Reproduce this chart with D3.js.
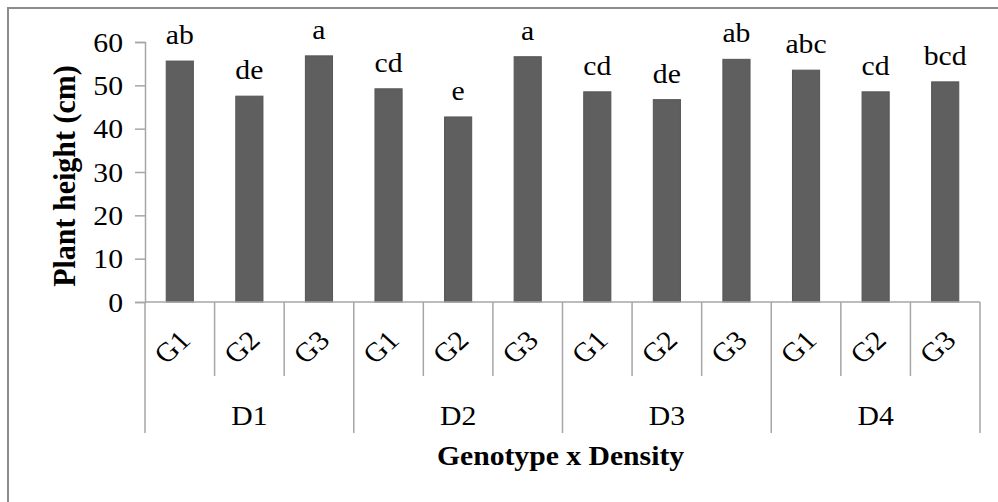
<!DOCTYPE html>
<html>
<head>
<meta charset="utf-8">
<script src="https://cdn.jsdelivr.net/npm/d3@7"></script>
<style>
  html, body { margin: 0; padding: 0; background: #fff; }
  svg { display: block; }
  text { font-family: "Liberation Serif", "Times New Roman", serif; fill: #000; }
</style>
</head>
<body>
<svg id="chart" width="998" height="502"></svg>
<script>
// ── Data ─────────────────────────────────────────────────────────
const densities = ['D1', 'D2', 'D3', 'D4'];
const genotypes = ['G1', 'G2', 'G3'];
const heights = [55.6, 47.5, 56.8, 49.2, 42.7, 56.6, 48.5, 46.7, 56.0, 53.5, 48.5, 50.8];
const letters = ['ab', 'de', 'a', 'cd', 'e', 'a', 'cd', 'de', 'ab', 'abc', 'cd', 'bcd'];
const yTicks = [0, 10, 20, 30, 40, 50, 60];

// ── Layout ───────────────────────────────────────────────────────
const W = 998, H = 502;
const plot = { left: 145, right: 980, top: 42, bottom: 302 };
const sx = 1.1;             // the source picture is a little stretched sideways
const fs = 27;
const axisColor = '#a6a6a6';
const barColor = '#5f5f5f';

const svg = d3.select('#chart');

// outer frame (only the top and left edges are in view)
svg.append('rect')
  .attr('x', 8).attr('y', 8)
  .attr('width', W + 20).attr('height', H + 20)
  .attr('fill', '#fff')
  .attr('stroke', '#8c8c8c').attr('stroke-width', 2);

const cats = densities.flatMap(d => genotypes.map(g => `${d}|${g}`));

const x = d3.scaleBand()
  .domain(cats)
  .range([plot.left, plot.right])
  .paddingInner(0.61)
  .paddingOuter(0.305);

const xCell = d3.scaleBand().domain(cats).range([plot.left, plot.right]);
const xGroup = d3.scaleBand().domain(densities).range([plot.left, plot.right]);

const y = d3.scaleLinear().domain([0, 60]).range([plot.bottom, plot.top]);

// ── Y axis ───────────────────────────────────────────────────────
const yAxis = svg.append('g')
  .attr('transform', `translate(${plot.left},0)`)
  .call(d3.axisLeft(y).tickValues(yTicks).tickSize(10).tickPadding(12));

yAxis.select('.domain').attr('stroke', axisColor).attr('stroke-width', 1.5);
yAxis.selectAll('.tick line').attr('stroke', axisColor).attr('stroke-width', 1.5);
yAxis.selectAll('.tick text')
  .attr('font-size', fs)
  .attr('font-family', '"Liberation Serif", "Times New Roman", serif')
  .attr('fill', '#000')
  .attr('dy', '0.34em')
  .each(function() {
    const t = d3.select(this);
    const tx = +t.attr('x');
    t.attr('x', null)
      .attr('transform', `translate(${tx},0) scale(${sx},1)`);
  });

// ── Bars ─────────────────────────────────────────────────────────
svg.append('g')
  .selectAll('rect')
  .data(heights)
  .join('rect')
  .attr('x', (d, i) => x(cats[i]))
  .attr('y', d => y(d))
  .attr('width', x.bandwidth())
  .attr('height', d => y(0) - y(d))
  .attr('fill', barColor)
  .attr('stroke', '#555')
  .attr('stroke-width', 1);

// significance letters
svg.append('g')
  .selectAll('text')
  .data(letters)
  .join('text')
  .attr('transform', (d, i) =>
    `translate(${x(cats[i]) + x.bandwidth() / 2},${y(heights[i]) - 17}) scale(${sx},1)`)
  .attr('text-anchor', 'middle')
  .attr('font-size', fs)
  .text(d => d);

// ── X axis (two-level categories) ────────────────────────────────
const xa = svg.append('g');

xa.append('line')
  .attr('x1', plot.left).attr('x2', plot.right)
  .attr('y1', plot.bottom).attr('y2', plot.bottom)
  .attr('stroke', axisColor).attr('stroke-width', 1.5);

// cell dividers
xa.selectAll('line.cell')
  .data(cats.slice(1).filter((c, i) => (i + 1) % genotypes.length !== 0))
  .join('line')
  .attr('class', 'cell')
  .attr('x1', d => xCell(d)).attr('x2', d => xCell(d))
  .attr('y1', plot.bottom).attr('y2', 376)
  .attr('stroke', axisColor).attr('stroke-width', 1.5);

// group dividers
const groupEdges = densities.map(d => xGroup(d)).concat([plot.right]);
xa.selectAll('line.group')
  .data(groupEdges)
  .join('line')
  .attr('class', 'group')
  .attr('x1', d => d).attr('x2', d => d)
  .attr('y1', plot.bottom).attr('y2', 433)
  .attr('stroke', axisColor).attr('stroke-width', 1.5);

// genotype labels (rotated)
xa.selectAll('text.geno')
  .data(cats)
  .join('text')
  .attr('class', 'geno')
  .attr('transform', d =>
    `translate(${xCell(d) + xCell.bandwidth() / 2 - 8},347) scale(${sx},1) rotate(-45)`)
  .attr('text-anchor', 'middle')
  .attr('dy', '0.35em')
  .attr('font-size', fs)
  .text(d => d.split('|')[1]);

// density labels
xa.selectAll('text.dens')
  .data(densities)
  .join('text')
  .attr('class', 'dens')
  .attr('transform', d =>
    `translate(${xGroup(d) + xGroup.bandwidth() / 2},425) scale(${sx},1)`)
  .attr('text-anchor', 'middle')
  .attr('font-size', fs)
  .text(d => d);

// ── Axis titles ──────────────────────────────────────────────────
svg.append('text')
  .attr('transform', `translate(${(plot.left + plot.right) / 2 - 2},465) scale(1.06,1)`)
  .attr('text-anchor', 'middle')
  .attr('font-size', 28)
  .attr('font-weight', 'bold')
  .text('Genotype x Density');

svg.append('text')
  .attr('transform', `translate(75,176) scale(1.06,1) rotate(-90)`)
  .attr('text-anchor', 'middle')
  .attr('font-size', 30)
  .attr('font-weight', 'bold')
  .text('Plant height (cm)');
</script>
</body>
</html>
